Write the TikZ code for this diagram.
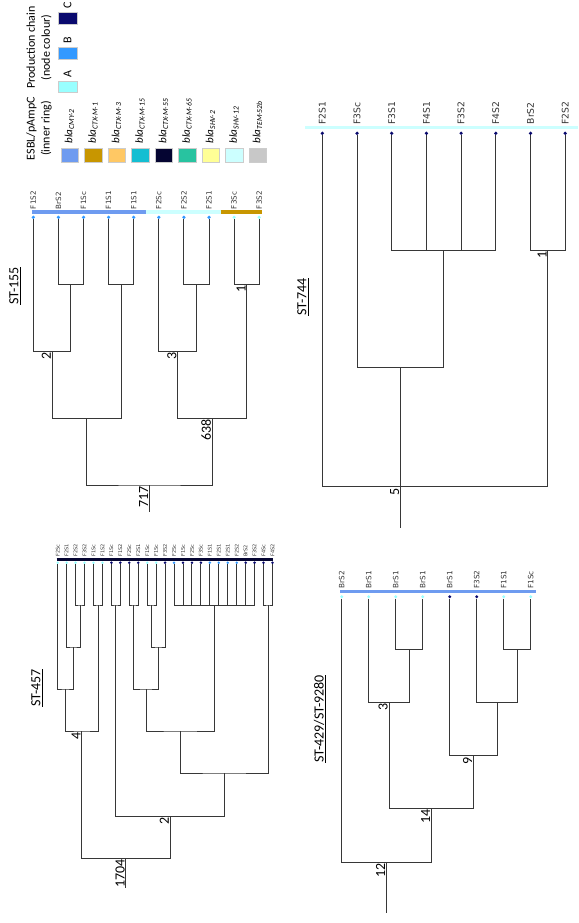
\documentclass[tikz,border=0pt]{standalone}
\usepackage{fontspec}
\setmainfont{Carlito}
\newfontfamily\leaffont{DejaVu Sans}
\usepackage{tikz}
\usepackage{xcolor}
% production chain (node colour)
\definecolor{chainA}{RGB}{153,255,255}
\definecolor{chainB}{RGB}{51,153,255}
\definecolor{chainC}{RGB}{10,10,110}
% ESBL/pAmpC (inner ring)
\definecolor{cmyII}{RGB}{110,155,240}
\definecolor{ctxI}{RGB}{200,150,0}
\definecolor{ctxIII}{RGB}{255,200,100}
\definecolor{ctxXV}{RGB}{20,190,210}
\definecolor{ctxLV}{RGB}{5,5,50}
\definecolor{ctxLXV}{RGB}{40,195,160}
\definecolor{shvII}{RGB}{255,255,150}
\definecolor{shvXII}{RGB}{204,255,255}
\definecolor{temLIIb}{RGB}{200,200,200}
\definecolor{branchclr}{RGB}{55,55,55}
\tikzset{
  % Tree branches
  branch/.style   = {line width=1pt, draw=branchclr},
  % Ring bar over the tips
  ringbar/.style  = {line width=#1, line cap=butt},
  % Tip dots
  tip/.style      = {circle, inner sep=0pt, minimum size=3.6pt, fill=#1},
  % Labels
  leaflab/.style  = {rotate=90, anchor=west, inner sep=0.5pt, text=black!80,
                     font=\leaffont\fontsize{#1}{#1}\selectfont},
  numlab/.style   = {rotate=90, anchor=south east, inner sep=1pt,
                     font=\fontsize{14}{14}\selectfont},
  sttitle/.style  = {rotate=90, inner sep=1pt, font=\fontsize{14}{14}\selectfont},
  legtitle/.style = {rotate=90, align=center, inner sep=0pt,
                     font=\fontsize{12}{15}\selectfont},
  blalab/.style   = {rotate=90, anchor=west, inner sep=0.5pt,
                     font=\fontsize{11}{11}\selectfont},
  chainlab/.style = {rotate=90, anchor=west, inner sep=0.5pt,
                     font=\fontsize{12}{12}\selectfont},
  % Legend swatches
  swatch/.style   = {rectangle, inner sep=0pt, minimum width=17.5pt,
                     minimum height=13.5pt, draw=black!20, fill=#1},
  chainbox/.style = {rectangle, inner sep=0pt, minimum width=18.5pt,
                     minimum height=11.5pt, draw=black!20, fill=#1},
}

\begin{document}
\begin{tikzpicture}[x=1pt, y=-1pt]
  \useasboundingbox (0,0) rectangle (578,923);

  % Legend: ESBL/pAmpC
  \node[legtitle] (esbl) at (39,128.5) {ESBL/pAmpC\\(inner ring)};
  \foreach \clr/\lab [count=\i from 0] in {cmyII/CMY-2, ctxI/CTX-M-1,
      ctxIII/CTX-M-3, ctxXV/CTX-M-15, ctxLV/CTX-M-55, ctxLXV/CTX-M-65,
      shvII/SHV-2, shvXII/SHV-12, temLIIb/TEM-52b}{
    \node[swatch=\clr] (sw\i) at ({69.5+23.5*\i},155) {};
    \node[blalab] (bla\i) at ({69.5+23.5*\i},144)
      {\textit{bla}\textsubscript{\textit{\lab}}};
  }

  % Legend: production chain
  \node[legtitle] (chain) at (39,47.5) {Production chain\\(node colour)};
  \node[chainbox=chainA] (boxA) at (67.5,86.7) {};
  \node[chainbox=chainB] (boxB) at (67.5,53.3) {};
  \node[chainbox=chainC] (boxC) at (67.5,18.3) {};
  \node[chainlab] (labA) at (67.5,78) {A};
  \node[chainlab] (labB) at (67.5,44) {B};
  \node[chainlab] (labC) at (67.5,9) {C};

  % ST-155
  \node[sttitle] (t155) at (15,286) {\underline{ST-155}};
  \draw[ringbar=4pt, cmyII]  (32.3,212.3) -- (145.7,212.3);
  \draw[ringbar=4pt, shvXII] (145.7,212.3) -- (220.7,212.3);
  \draw[ringbar=4pt, ctxI]   (220.7,212.3) -- (261.7,212.3);
  \foreach \lab/\clr [count=\i from 0] in {F1S2/chainB, BrS2/chainB,
      F1Sc/chainB, F1S1/chainB, F1S1/chainB, F2Sc/chainB, F2S2/chainB,
      F2S1/chainB, F3Sc/chainA, F3S2/chainA}{
    \node[tip=\clr] (b\i) at ({33.3+25.1*\i},217.3) {};
    \node[leaflab=7.2] (bt\i) at ({33.3+25.1*\i},209.8) {\lab};
  }
  \coordinate (b12)  at (70.9,284.3);
  \coordinate (b34)  at (121.2,284.3);
  \coordinate (b67)  at (196.5,284.3);
  \coordinate (b89)  at (246.7,284.3);
  \coordinate (b012) at (52.1,351.7);
  \coordinate (b567) at (177.7,351.7);
  \coordinate (bL)   at (86.7,418.3);
  \coordinate (bR)   at (212.2,418.3);
  \coordinate (broot) at (149.4,485);
  \coordinate (bstem) at (149.4,512);
  \draw[branch] (b1) |- (b12) -| (b2);
  \draw[branch] (b3) |- (b34) -| (b4);
  \draw[branch] (b6) |- (b67) -| (b7);
  \draw[branch] (b8) |- (b89) -| (b9);
  \draw[branch] (b0) |- (b012) -| (b12);
  \draw[branch] (b5) |- (b567) -| (b67);
  \draw[branch] (b012) |- (bL) -| (b34);
  \draw[branch] (b567) |- (bR) -| (b89);
  \draw[branch] (bL) |- (broot) -| (bR);
  \draw[branch] (broot) -- (bstem);
  \node[numlab] (n2)   at (b012) {2};
  \node[numlab] (n3)   at (b567) {3};
  \node[numlab] (n1)   at (b89) {1};
  \node[numlab] (n638) at (bR) {638};
  \node[numlab] (n717) at (broot) {717};

  % ST-744
  \node[sttitle] (t744) at (303,297) {\underline{ST-744}};
  \draw[ringbar=3pt, shvXII] (305,127.3) -- (578,127.3);
  \foreach \lab [count=\i from 0] in {F2S1, F3Sc, F3S1, F4S1, F3S2, F4S2,
      BrS2, F2S2}{
    \node[tip=chainC] (r\i) at ({322.3+34.7*\i},133.3) {};
    \node[leaflab=9.2] (rt\i) at ({322.3+34.7*\i},125) {\lab};
  }
  \coordinate (rpoly) at (443.75,250.7);
  \coordinate (r67)   at (547.85,250.7);
  \coordinate (r12)   at (400.4,367.7);
  \coordinate (rroot) at (400.4,486.7);
  \coordinate (rstem) at (400.4,528.3);
  \draw[branch] (r2) |- (rpoly) -| (r5);
  \draw[branch] (r3) |- (rpoly);
  \draw[branch] (r4) |- (rpoly);
  \draw[branch] (r6) |- (r67) -| (r7);
  \draw[branch] (r1) |- (r12) -| (rpoly);
  \draw[branch] (r0) |- (rroot) -| (r67);
  \draw[branch] (r12) -- (rroot) -- (rstem);
  \node[numlab] (m1) at (r67) {1};
  \node[numlab] (m5) at (rroot) {5};

  % ST-457
  \node[sttitle] (t457) at (37,688) {\underline{ST-457}};
  \draw[ringbar=3pt, ctxLV] (56.7,559.3) -- (273.3,559.3);
  \foreach \lab/\clr [count=\i from 0] in {F2Sc/chainA, F2S1/chainA,
      F2S2/chainA, F3S2/chainA, F1Sc/chainA, F1S2/chainA, F1Sc/chainC,
      F1S2/chainC, F2Sc/chainC, F2S1/chainC, F1Sc/chainA, F1Sc/chainA,
      F3S2/chainC, F2Sc/chainB, F1Sc/chainC, F2Sc/chainC, F3Sc/chainC,
      F1S1/chainB, F2S1/chainB, F2S1/chainB, F2S2/chainB, BrS2/chainC,
      F3S2/chainC, F4Sc/chainC, F4S2/chainC}{
    \node[tip=\clr, minimum size=2.8pt] (q\i) at ({57.7+8.95*\i},562.7) {};
    \node[leaflab=5] (qt\i) at ({57.7+8.95*\i},557.5) {\lab};
  }
  \coordinate (qa) at (80.1,605);
  \coordinate (qb) at (73.4,647);
  \coordinate (qc) at (65.5,689);
  \coordinate (qd) at (98,605);
  \coordinate (qe) at (81.8,731);
  \coordinate (qf) at (115.9,605);
  \coordinate (qg) at (133.8,605);
  \coordinate (qh) at (151.7,605);
  \coordinate (qi) at (158.4,647);
  \coordinate (qj) at (146.1,689);
  \coordinate (qk) at (214.3,605);
  \coordinate (ql) at (180.2,731);
  \coordinate (qm) at (268,605);
  \coordinate (qn) at (224.1,773);
  \coordinate (qo) at (170,816);
  \coordinate (qr) at (125.9,858);
  \coordinate (qz) at (125.9,888);
  \draw[branch] (q2) |- (qa) -| (q3);
  \draw[branch] (q1) |- (qb) -| (qa);
  \draw[branch] (q0) |- (qc) -| (qb);
  \draw[branch] (q4) |- (qd) -| (q5);
  \draw[branch] (qc) |- (qe) -| (qd);
  \draw[branch] (q6) |- (qf) -| (q7);
  \draw[branch] (q8) |- (qg) -| (q9);
  \draw[branch] (q10) |- (qh) -| (q11);
  \draw[branch] (qh) |- (qi) -| (q12);
  \draw[branch] (qg) |- (qj) -| (qi);
  \draw[branch] (q13) |- (qk) -| (q22);
  \foreach \j in {14,...,21}
    \draw[branch] (q\j) |- (qk);
  \draw[branch] (qj) |- (ql) -| (qk);
  \draw[branch] (q23) |- (qm) -| (q24);
  \draw[branch] (ql) |- (qn) -| (qm);
  \draw[branch] (qf) |- (qo) -| (qn);
  \draw[branch] (qe) |- (qr) -| (qo);
  \draw[branch] (qr) -- (qz);
  \node[numlab] (k4)    at (qe) {4};
  \node[numlab] (k2)    at (qo) {2};
  \node[numlab] (k1704) at (qr) {1704};

  % ST-429/ST-9280
  \node[sttitle] (t429) at (320,719) {\underline{ST-429/ST-9280}};
  \draw[ringbar=3.5pt, cmyII] (340,591.7) -- (536,591.7);
  \foreach \lab/\clr [count=\i from 0] in {BrS2/chainA, BrS1/chainA,
      BrS1/chainA, BrS1/chainA, BrS1/chainC, F3S2/chainC, F1S1/chainA,
      F1Sc/chainA}{
    \node[tip=\clr, minimum size=3.3pt] (s\i) at ({341.7+27*\i},596.7) {};
    \node[leaflab=7.3] (st\i) at ({341.7+27*\i},589.3) {\lab};
  }
  \coordinate (s23)   at (409.2,649.3);
  \coordinate (s123)  at (389,702.3);
  \coordinate (s67)   at (517.2,649.3);
  \coordinate (s567)  at (497,702.3);
  \coordinate (s47)   at (473.3,755.7);
  \coordinate (s17)   at (431.2,808.3);
  \coordinate (sroot) at (386.4,862.3);
  \coordinate (sstem) at (386.4,913.3);
  \draw[branch] (s2) |- (s23) -| (s3);
  \draw[branch] (s1) |- (s123) -| (s23);
  \draw[branch] (s6) |- (s67) -| (s7);
  \draw[branch] (s5) |- (s567) -| (s67);
  \draw[branch] (s4) |- (s47) -| (s567);
  \draw[branch] (s123) |- (s17) -| (s47);
  \draw[branch] (s0) |- (sroot) -| (s17);
  \draw[branch] (sroot) -- (sstem);
  \node[numlab] (h3)  at (s123) {3};
  \node[numlab] (h9)  at (s47) {9};
  \node[numlab] (h14) at (s17) {14};
  \node[numlab] (h12) at (sroot) {12};
\end{tikzpicture}
\end{document}
